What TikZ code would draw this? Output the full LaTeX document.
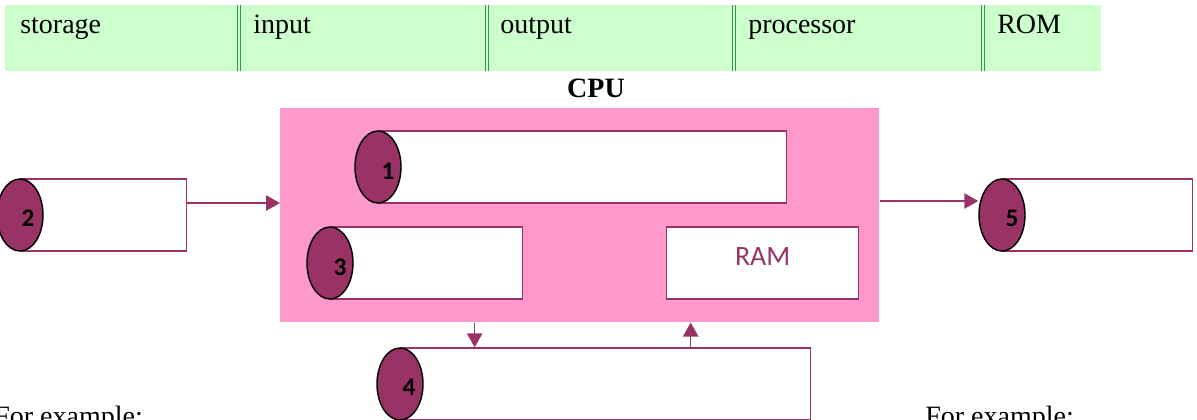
\documentclass[tikz,border=0pt]{standalone}
\usepackage{fontspec}
\setmainfont{Liberation Serif}
\newfontfamily\calibri{Carlito}
\usetikzlibrary{shapes.geometric, arrows.meta, positioning}

\definecolor{plum}{HTML}{993366}
\definecolor{cpupink}{HTML}{FF99CC}
\definecolor{mint}{HTML}{CCFFCC}
\definecolor{rulegreen}{HTML}{3A8F5C}

\tikzset{
  slot/.style={draw=plum, fill=white, line width=1pt, rectangle, minimum height=54pt, inner sep=0pt},
  disc/.style={draw=black, fill=plum, line width=1.1pt, ellipse, minimum width=34.5pt, minimum height=54pt, inner sep=0pt},
  num/.style={font=\calibri\bfseries\fontsize{19}{19}\selectfont, inner sep=0pt},
  flow/.style={draw=plum, line width=1.1pt, -{Triangle[length=10.5pt,width=11.5pt]}},
  cell/.style={font=\fontsize{21}{21}\selectfont, anchor=base west, inner sep=0pt},
  divider/.style={draw=rulegreen, double=mint, double distance=1pt, line width=1pt}
}

\begin{document}
\begin{tikzpicture}[x=0.75pt, y=-0.75pt]
    \useasboundingbox (0,0) rectangle (1197,419);
    \clip (0,0) rectangle (1197,419);

    % word bank
    \node[fill=mint, minimum width=822pt, minimum height=49.5pt, anchor=north west, inner sep=0pt] (bar) at (5,5) {};
    \foreach \x in {239,487,734,983}
        \draw[divider] (\x,5) -- (\x,71);
    \node[cell] (storage) at (20,33) {storage};
    \node[cell] (input) at (253,33) {input};
    \node[cell] (output) at (500,33) {output};
    \node[cell] (processor) at (748,33) {processor};
    \node[cell] (rom) at (997,33) {ROM};

    % cpu
    \node[fill=cpupink, minimum width=449.25pt, minimum height=160.5pt, anchor=north west, inner sep=0pt] (cpu) at (280,108) {};
    \node[font=\bfseries\fontsize{21}{21}\selectfont, anchor=base] (cpulabel) at (596,97) {CPU};

    \node[slot, minimum width=306pt, anchor=west] (b1) at (378,167) {};
    \node[disc] (d1) at (b1.west) {};
    \node[num] (n1) at ([shift={(10,4)}]d1.center) {1};

    \node[slot, minimum width=144pt, anchor=west] (b3) at (330,263) {};
    \node[disc] (d3) at (b3.west) {};
    \node[num] (n3) at ([shift={(10,4)}]d3.center) {3};

    \node[slot, minimum width=144pt, anchor=west] (ram) at (666,263) {};
    \node[font=\calibri\fontsize{21}{21}\selectfont, text=plum] (ramtext) at ([yshift=4.5pt]ram.center) {RAM};

    % input and output
    \node[slot, minimum width=124.5pt, anchor=west] (b2) at (20,215) {};
    \node[disc] (d2) at (b2.west) {};
    \node[num] (n2) at ([shift={(8,3)}]d2.center) {2};

    \node[slot, minimum width=142.5pt, anchor=west] (b5) at (1002,215) {};
    \node[disc] (d5) at (b5.west) {};
    \node[num] (n5) at ([shift={(10,3)}]d5.center) {5};

    % storage
    \node[slot, minimum width=307.5pt, anchor=west] (b4) at (400,384) {};
    \node[disc] (d4) at (b4.west) {};
    \node[num] (n4) at ([shift={(9,3)}]d4.center) {4};

    % arrows
    \coordinate (out2) at ([yshift=9pt]b2.east);
    \draw[flow] (out2) -- (out2 -| cpu.west);
    \coordinate (in5) at ([yshift=10.5pt]d5.west);
    \draw[flow] (in5 -| cpu.east) -- (in5);
    \coordinate (down4) at ([xshift=-98.25pt]b4.north);
    \draw[flow] (down4 |- cpu.south) -- (down4);
    \coordinate (up4) at ([xshift=63.75pt]b4.north);
    \draw[flow] (up4) -- (up4 |- cpu.south);

    \node[cell] (ex1) at (-6,425) {For example:};
    \node[cell] (ex2) at (925,425) {For example:};
\end{tikzpicture}
\end{document}
